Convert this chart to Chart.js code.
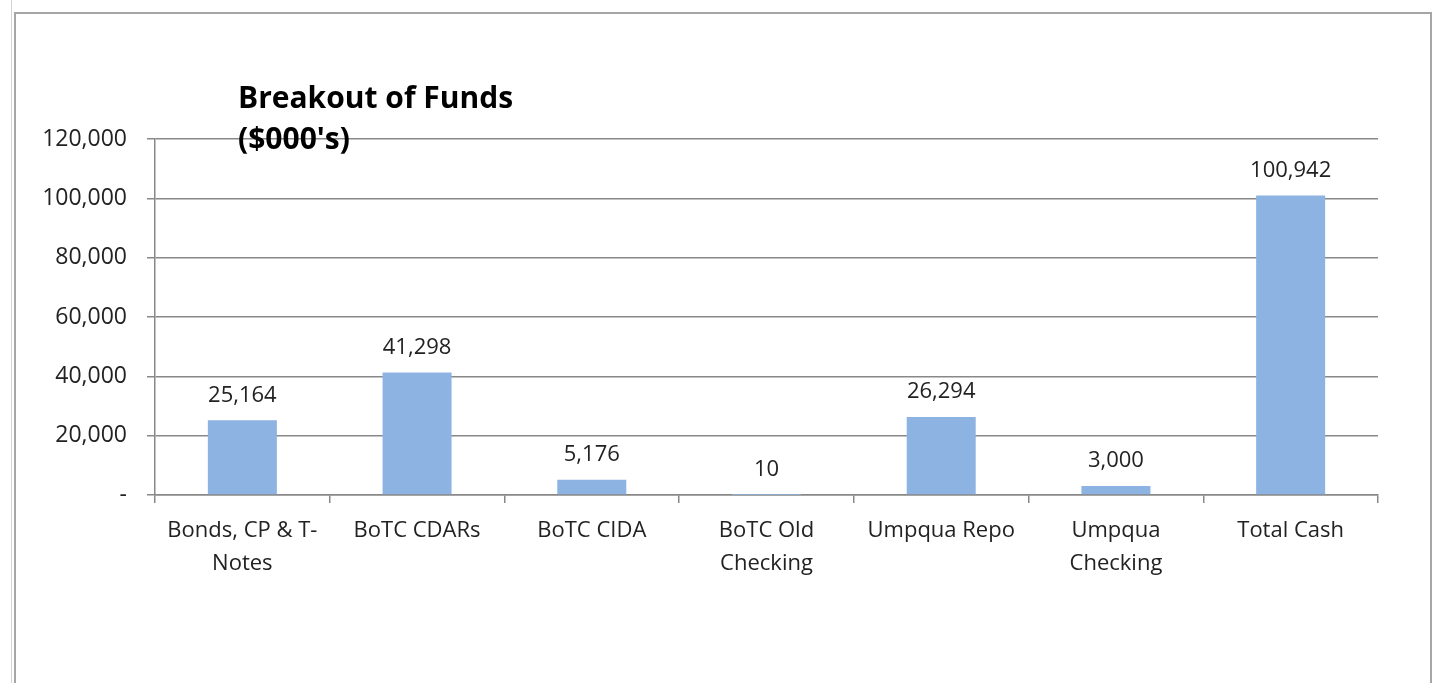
<!DOCTYPE html>
<html>
<head>
<meta charset="utf-8">
<script src="https://cdn.jsdelivr.net/npm/chart.js@4/dist/chart.umd.min.js"></script>
<style>
    html, body { margin: 0; padding: 0; background: #fff; overflow: hidden; }
    #sheet { position: relative; width: 1437px; height: 683px; }
    #frame {
        position: absolute; left: 14px; top: 12px; width: 1414px; height: 700px;
        border-left: 2px solid #a6a6a6; border-top: 2px solid #a6a6a6; border-right: 2px solid #a6a6a6;
    }
    #cellLine { position: absolute; left: 11px; top: 0; width: 1px; height: 683px; background: #d4d4d4; }
    canvas { position: absolute; left: 0; top: 0; }
</style>
</head>
<body>
<div id="sheet">
    <div id="cellLine"></div>
    <div id="frame"></div>
    <canvas id="fundsChart" width="1437" height="683"></canvas>
</div>
<script>
const categories = [
    ["Bonds, CP & T-", "Notes"],
    "BoTC CDARs",
    "BoTC CIDA",
    ["BoTC Old", "Checking"],
    "Umpqua Repo",
    ["Umpqua", "Checking"],
    "Total Cash",
];
const fundValues = [25164, 41298, 5176, 10, 26294, 3000, 100942];
const yTicks = [0, 20000, 40000, 60000, 80000, 100000, 120000];
const titleLines = ["Breakout of Funds", "($000's)"];

const FONT = "'Open Sans', sans-serif";
const fmt = (v) => (v === 0 ? "-" : v.toLocaleString("en-US"));

// value labels above each bar
const barLabels = {
    id: "barLabels",
    afterDatasetsDraw(chart) {
        const ctx = chart.ctx;
        const meta = chart.getDatasetMeta(0);
        ctx.save();
        ctx.font = "22px " + FONT;
        ctx.fillStyle = "#222";
        ctx.textAlign = "center";
        ctx.textBaseline = "middle";
        meta.data.forEach((bar, i) => {
            ctx.fillText(fmt(fundValues[i]), bar.x, bar.y - 25);
        });
        ctx.restore();
    },
};

// chart title, overlapping the plot like the Excel original
const chartTitle = {
    id: "chartTitle",
    afterDraw(chart) {
        const ctx = chart.ctx;
        ctx.save();
        ctx.font = "bold 30px " + FONT;
        ctx.fillStyle = "#000";
        ctx.textAlign = "left";
        ctx.textBaseline = "alphabetic";
        ctx.fillText(titleLines[0], 238, 108);
        ctx.fillText(titleLines[1], 238, 149);
        ctx.restore();
    },
};

new Chart(document.getElementById("fundsChart").getContext("2d"), {
    type: "bar",
    data: {
        labels: categories,
        datasets: [
            {
                data: fundValues,
                backgroundColor: "#8db3e2",
                borderWidth: 0,
                barPercentage: 0.395,
                categoryPercentage: 1,
            },
        ],
    },
    options: {
        responsive: false,
        animation: false,
        layout: {
            padding: { top: 139, right: 59, bottom: 0, left: 0 },
        },
        scales: {
            x: {
                afterFit(scale) {
                    scale.height = 188;
                },
                grid: {
                    display: true,
                    drawOnChartArea: false,
                    drawTicks: true,
                    tickLength: 8,
                    color: "#888",
                    lineWidth: 1.5,
                    offset: true,
                },
                border: { color: "#888", width: 1.5 },
                ticks: {
                    color: "#222",
                    font: { family: FONT, size: 22, lineHeight: 1.5 },
                    padding: 11,
                    maxRotation: 0,
                    autoSkip: false,
                },
            },
            y: {
                min: 0,
                max: 120000,
                afterFit(scale) {
                    scale.width = 155;
                },
                afterBuildTicks(scale) {
                    scale.ticks = yTicks.map((v) => ({ value: v }));
                },
                grid: {
                    color: "#888",
                    lineWidth: 1.5,
                    tickLength: 8,
                },
                border: { color: "#888", width: 1.5 },
                ticks: {
                    color: "#222",
                    font: { family: FONT, size: 23 },
                    padding: 20,
                    callback: (v) => fmt(v),
                },
            },
        },
        plugins: {
            legend: { display: false },
            tooltip: { enabled: false },
        },
    },
    plugins: [barLabels, chartTitle],
});
</script>
</body>
</html>
